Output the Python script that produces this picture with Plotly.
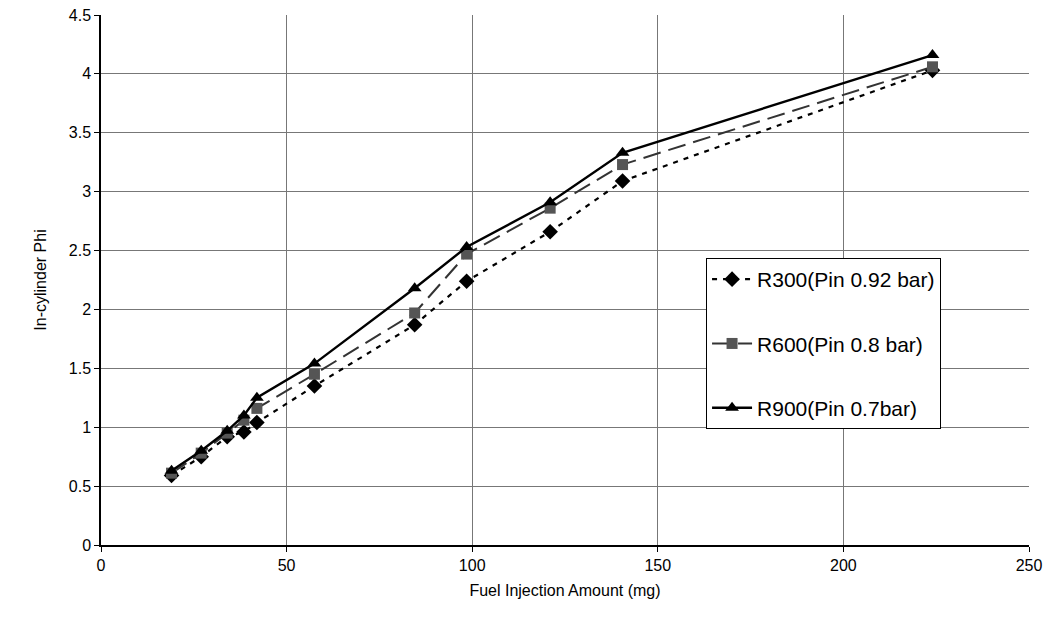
import plotly.graph_objects as go

fuel = [19, 27, 34, 38.5, 42, 57.5, 84.5, 98.5, 121, 140.5, 224]
r300 = [0.59, 0.75, 0.92, 0.96, 1.04, 1.35, 1.87, 2.24, 2.66, 3.09, 4.03]
r600 = [0.61, 0.78, 0.95, 1.06, 1.16, 1.45, 1.97, 2.47, 2.86, 3.23, 4.06]
r900 = [0.63, 0.80, 0.97, 1.10, 1.25, 1.54, 2.18, 2.53, 2.91, 3.33, 4.16]
names = ["R300(Pin 0.92 bar)", "R600(Pin 0.8 bar)", "R900(Pin 0.7bar)"]

fig = go.Figure()
fig.add_trace(go.Scatter(x=fuel, y=r300, name=names[0], mode="lines+markers",
                         legendgroup="a",
                         line=dict(color="black", width=2.2, dash="5px,6px"),
                         marker=dict(symbol="diamond", size=12, color="black")))
fig.add_trace(go.Scatter(x=fuel, y=r600, name=names[1], mode="lines+markers",
                         legendgroup="b",
                         line=dict(color="#333333", width=2, dash="18px,8px"),
                         marker=dict(symbol="square", size=11, color="#555555")))
fig.add_trace(go.Scatter(x=fuel, y=r900, name=names[2], mode="lines+markers",
                         legendgroup="c",
                         line=dict(color="black", width=2.4),
                         marker=dict(symbol="triangle-up", size=12, color="black")))

fig.update_layout(
    width=1049, height=619,
    margin=dict(l=101, r=20, t=15, b=74),
    paper_bgcolor="white", plot_bgcolor="white",
    font=dict(family="Liberation Sans, Arial, sans-serif", color="black"),
    legend=dict(x=0.652, y=0.5415, xanchor="left", yanchor="top",
                bordercolor="black", borderwidth=1, bgcolor="white",
                font=dict(size=21), tracegroupgap=34, itemwidth=40),
    showlegend=True,
)
fig.update_xaxes(range=[0, 250], tickvals=[0, 50, 100, 150, 200, 250],
                 showgrid=True, gridcolor="#777777", gridwidth=1,
                 showline=True, linecolor="black", linewidth=1.5,
                 ticks="outside", ticklen=5, tickcolor="black",
                 tickfont=dict(size=16), zeroline=False, mirror=False,
                 automargin=False,
                 title=dict(text="Fuel Injection Amount (mg)", font=dict(size=16), standoff=12))
fig.update_yaxes(range=[0, 4.5], tickvals=[0, 0.5, 1, 1.5, 2, 2.5, 3, 3.5, 4, 4.5],
                 ticktext=["0", "0.5", "1", "1.5", "2", "2.5", "3", "3.5", "4", "4.5"],
                 showgrid=True, gridcolor="#777777", gridwidth=1,
                 showline=True, linecolor="black", linewidth=1.5,
                 ticks="outside", ticklen=5, tickcolor="black",
                 tickfont=dict(size=16), zeroline=False,
                 automargin=False,
                 title=dict(text="In-cylinder Phi", font=dict(size=16), standoff=18))
fig.write_html("out.html")
